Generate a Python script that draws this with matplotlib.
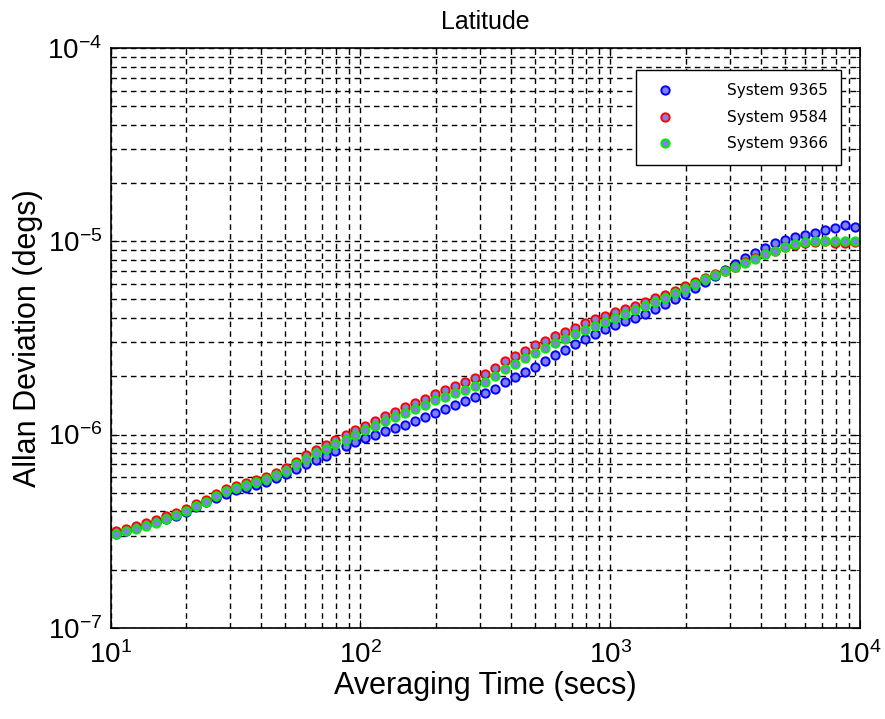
import matplotlib
matplotlib.use("Agg")
import matplotlib.pyplot as plt
from matplotlib.ticker import LogLocator

plt.rcParams['font.family'] = ['Liberation Sans', 'DejaVu Sans']

# averaging times (secs)
tau = [10.47, 11.48, 12.59, 13.80, 15.14, 16.60, 18.20, 19.95, 21.88, 23.99,
       26.30, 28.84, 31.62, 34.67, 38.02, 41.69, 45.71, 50.12, 54.95, 60.26,
       66.07, 72.44, 79.43, 87.10, 95.50, 104.7, 114.8, 125.9, 138.0, 151.4,
       166.0, 182.0, 199.5, 218.8, 239.9, 263.0, 288.4, 316.2, 346.7, 380.2,
       416.9, 457.1, 501.2, 549.5, 602.6, 660.7, 724.4, 794.3, 871.0, 955.0,
       1047, 1148, 1259, 1380, 1514, 1660, 1820, 1995, 2188, 2399,
       2630, 2884, 3162, 3467, 3802, 4169, 4571, 5012, 5495, 6026,
       6607, 7244, 7943, 8710, 9550]

# allan deviation, units of 1e-7 degs
sys_9365 = [3.05, 3.15, 3.28, 3.4, 3.52, 3.65, 3.8, 3.95, 4.2, 4.45,
            4.7, 4.95, 5.15, 5.3, 5.5, 5.7, 5.95, 6.25, 6.6, 7.0,
            7.35, 7.75, 8.25, 8.7, 9.15, 9.55, 9.95, 10.4, 10.8, 11.25,
            11.75, 12.3, 12.9, 13.5, 14.2, 14.9, 15.6, 16.4, 17.3, 18.6,
            19.8, 21.0, 22.4, 24.0, 25.7, 27.5, 29.4, 31.3, 33.2, 35.0,
            36.8, 38.5, 40.2, 42.0, 44.5, 47.3, 50.2, 53.5, 57.5, 61.5,
            65.8, 71.0, 76.5, 82.0, 87.0, 92.0, 97.5, 102, 105, 108,
            111, 114, 117, 121, 118]
sys_9584 = [3.15, 3.25, 3.38, 3.5, 3.62, 3.78, 3.93, 4.1, 4.35, 4.6,
            4.9, 5.2, 5.4, 5.6, 5.8, 6.05, 6.35, 6.7, 7.2, 7.8,
            8.3, 8.8, 9.35, 9.9, 10.5, 11.1, 11.7, 12.4, 13.1, 13.8,
            14.5, 15.3, 16.2, 17.0, 17.8, 18.7, 19.6, 20.6, 22.1, 23.9,
            25.5, 27.2, 28.9, 30.6, 32.2, 34.0, 35.8, 37.6, 39.4, 41.3,
            43.0, 44.8, 46.5, 48.5, 50.7, 53.0, 55.5, 58.8, 61.8, 64.8,
            67.5, 70.5, 74.0, 78.0, 82.0, 85.5, 89.0, 93.0, 95.5, 98.0,
            99.5, 100, 98.5, 97.5, 99.0]
sys_9366 = [3.05, 3.15, 3.25, 3.35, 3.5, 3.65, 3.82, 4.0, 4.25, 4.5,
            4.8, 5.1, 5.3, 5.45, 5.65, 5.9, 6.2, 6.5, 7.0, 7.5,
            8.0, 8.45, 8.9, 9.4, 9.95, 10.5, 11.1, 11.7, 12.3, 13.0,
            13.6, 14.3, 15.0, 15.7, 16.4, 17.1, 17.9, 18.8, 20.2, 21.8,
            23.3, 24.9, 26.5, 28.1, 29.7, 31.4, 33.1, 34.8, 36.4, 38.2,
            40.0, 42.0, 44.0, 46.2, 48.6, 51.0, 53.8, 56.8, 60.0, 63.5,
            67.0, 70.5, 74.0, 77.5, 81.5, 85.5, 89.5, 93.5, 96.5, 99.0,
            100.5, 101, 101, 101, 100]

labels = ['System 9365', 'System 9584', 'System 9366']
colors = ['#0000ff', '#ff0000', '#00ee00']

fig = plt.figure(figsize=(8.85, 7.19), dpi=100)
ax = fig.add_axes([0.125, 0.127, 0.847, 0.806])

for vals, lab, c in zip([sys_9365, sys_9584, sys_9366], labels, colors):
    ax.plot(tau, [v * 1e-7 for v in vals], 'o', ms=6, mec=c, mfc='#8080e8',
            mew=1.4, label=lab)

ax.set_xscale('log')
ax.set_yscale('log')
ax.set_xlim(10, 1e4)
ax.set_ylim(1e-7, 1e-4)
ax.xaxis.set_major_locator(LogLocator(base=10, numticks=10))
ax.yaxis.set_major_locator(LogLocator(base=10, numticks=10))

ax.grid(True, which='both', color='black', linestyle=(0, (4, 3)), linewidth=1.0)
ax.tick_params(which='both', direction='in', top=True, right=True,
               labelsize=20, colors='black')
ax.tick_params(axis='x', which='major', pad=10)
ax.tick_params(axis='y', which='major', pad=6)
ax.tick_params(which='major', length=6)
ax.tick_params(which='minor', length=3)
for s in ax.spines.values():
    s.set_linewidth(1.2)

ax.set_title('Latitude', fontsize=18, pad=14)
ax.set_xlabel('Averaging Time (secs)', fontsize=22, labelpad=1)
ax.set_ylabel('Allan Deviation (degs)', fontsize=22, labelpad=3)

leg = ax.legend(loc='upper right', bbox_to_anchor=(0.985, 0.976),
                prop={'family': 'DejaVu Sans', 'size': 11},
                frameon=True, fancybox=False, edgecolor='black',
                framealpha=1, borderpad=0.9, labelspacing=0.75,
                handletextpad=3.0, markerscale=1.0)
leg.get_frame().set_linewidth(1.0)

plt.savefig('out.png', dpi=100)
